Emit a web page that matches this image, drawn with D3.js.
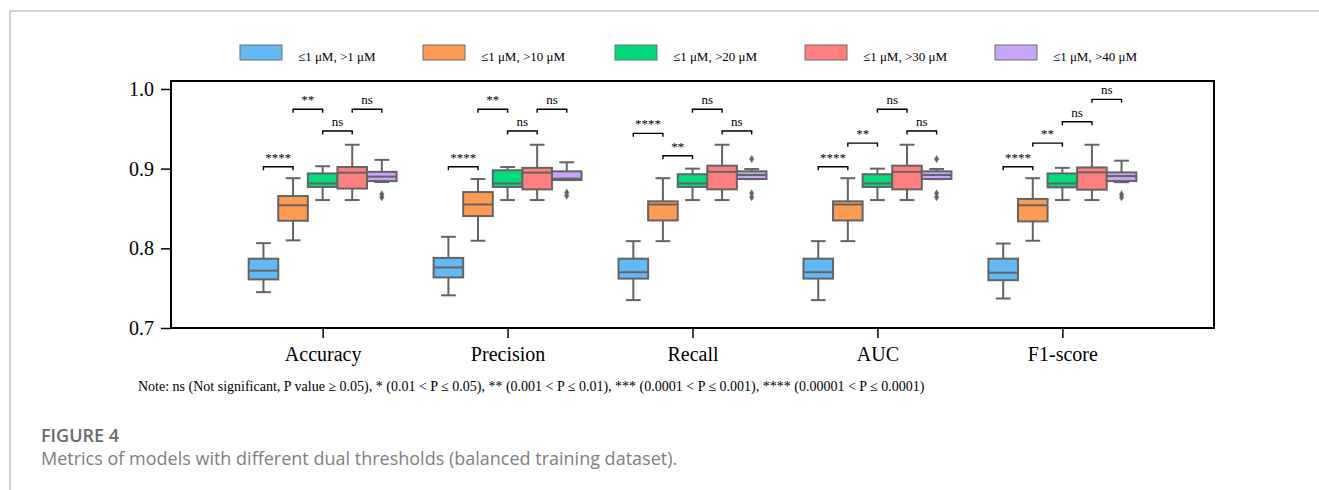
<!DOCTYPE html>
<html>
<head>
<meta charset="utf-8">
<script src="https://cdn.jsdelivr.net/npm/d3@7"></script>
<style>
  html, body { margin: 0; padding: 0; background: #fff; }
  svg { display: block; }
</style>
</head>
<body>
<svg id="chart" width="1319" height="490"></svg>
<script>
// ---------------- data ----------------
const metrics = ["Accuracy", "Precision", "Recall", "AUC", "F1-score"];
const groups = ["≤1 μM, >1 μM", "≤1 μM, >10 μM", "≤1 μM, >20 μM", "≤1 μM, >30 μM", "≤1 μM, >40 μM"];
const colors = ["#62b9f3", "#fe9b53", "#00db7c", "#fe7f7e", "#c7a6fa"];
const yTicks = [0.7, 0.8, 0.9, 1.0];

// per metric: [lower whisker, Q1, median, Q3, upper whisker]
const stats1uM = [
  [0.745, 0.761, 0.772, 0.787, 0.8065],
  [0.741, 0.7635, 0.776, 0.788, 0.8145],
  [0.735, 0.762, 0.770, 0.787, 0.809],
  [0.735, 0.762, 0.770, 0.787, 0.809],
  [0.737, 0.760, 0.7694, 0.787, 0.806]
];
const stats10uM = [
  [0.810, 0.8346, 0.854, 0.8656, 0.888],
  [0.8095, 0.8405, 0.855, 0.8706, 0.887],
  [0.809, 0.835, 0.855, 0.859, 0.888],
  [0.809, 0.835, 0.855, 0.859, 0.888],
  [0.8095, 0.8338, 0.854, 0.862, 0.888]
];
const stats20uM = [
  [0.8606, 0.877, 0.8815, 0.894, 0.903],
  [0.8606, 0.877, 0.8815, 0.898, 0.902],
  [0.8606, 0.877, 0.8815, 0.893, 0.900],
  [0.8606, 0.877, 0.8815, 0.893, 0.900],
  [0.8606, 0.8765, 0.8815, 0.894, 0.901]
];
const stats30uM = [
  [0.8606, 0.875, 0.895, 0.902, 0.930],
  [0.8606, 0.874, 0.895, 0.901, 0.930],
  [0.8606, 0.874, 0.896, 0.9037, 0.930],
  [0.8606, 0.874, 0.896, 0.9037, 0.930],
  [0.8606, 0.8736, 0.8954, 0.9015, 0.930]
];
const stats40uM = [
  [0.8832, 0.8844, 0.890, 0.896, 0.911],
  [0.8857, 0.8857, 0.8875, 0.8966, 0.908],
  [0.8868, 0.887, 0.892, 0.8966, 0.8995],
  [0.8868, 0.887, 0.892, 0.8966, 0.8995],
  [0.883, 0.8844, 0.8907, 0.8953, 0.910]
];
// outliers per metric (only the >40 μM group shows any)
const outliers40uM = [
  [0.868, 0.864],
  [0.870, 0.866],
  [0.912, 0.869, 0.864],
  [0.912, 0.869, 0.864],
  [0.868, 0.864]
];

// significance comparisons between neighbouring groups
const sigPairs = [[0, 1], [1, 2], [2, 3], [3, 4]];
const sigLabels = ["****", "**", "ns", "ns"];
// bracket heights (y value) per metric, same order as sigPairs
const sigLevels = [
  [0.9024, 0.9745, 0.9472, 0.9745],
  [0.9024, 0.9745, 0.9472, 0.9745],
  [0.9443, 0.9162, 0.9745, 0.9472],
  [0.9024, 0.932, 0.9745, 0.9472],
  [0.9024, 0.932, 0.9589, 0.987]
];

const noteText = "Note: ns (Not significant, P value ≥ 0.05), * (0.01 < P ≤ 0.05), ** (0.001 < P ≤ 0.01), *** (0.0001 < P ≤ 0.001), **** (0.00001 < P ≤ 0.0001)";
const figLabel = "FIGURE 4";
const figCaption = "Metrics of models with different dual thresholds (balanced training dataset).";

// ---------------- drawing ----------------
const allStats = [stats1uM, stats10uM, stats20uM, stats30uM, stats40uM];
const allOutliers = [[], [], [], [], outliers40uM];

const svg = d3.select("#chart");
const serif = "'Liberation Serif', 'Times New Roman', serif";
const boxStroke = "#646464";

// outer page frame
svg.append("line").attr("x1", 10).attr("x2", 1319).attr("y1", 11).attr("y2", 11)
  .attr("stroke", "#c2c2c2").attr("stroke-width", 1.5);
svg.append("line").attr("x1", 10).attr("x2", 10).attr("y1", 11).attr("y2", 490)
  .attr("stroke", "#c2c2c2").attr("stroke-width", 1.5);

const plot = { left: 171, right: 1214, top: 81, bottom: 328 };
const x = d3.scaleLinear().domain([-0.82, metrics.length - 1 + 0.82]).range([plot.left, plot.right]);
const y = d3.scaleLinear().domain([0.7, 1.01]).range([plot.bottom, plot.top]);

const hueWidth = 0.8 / groups.length;
const hueOffset = h => (h - (groups.length - 1) / 2) * hueWidth;

// axes
const yAxis = d3.axisLeft(y).tickValues(yTicks).tickFormat(d3.format(".1f")).tickSize(10).tickPadding(7);
const gy = svg.append("g").attr("transform", `translate(${plot.left},0)`).call(yAxis);
gy.select(".domain").remove();
gy.selectAll(".tick line").attr("stroke", "#000").attr("stroke-width", 1.5);
gy.selectAll(".tick text").attr("font-family", serif).attr("font-size", 20).attr("fill", "#000");

const xAxis = d3.axisBottom(x).tickValues(d3.range(metrics.length)).tickFormat(i => metrics[i]).tickSize(10).tickPadding(9);
const gx = svg.append("g").attr("transform", `translate(0,${plot.bottom})`).call(xAxis);
gx.select(".domain").remove();
gx.selectAll(".tick line").attr("stroke", "#000").attr("stroke-width", 1.5);
gx.selectAll(".tick text").attr("font-family", serif).attr("font-size", 20).attr("fill", "#000");

// boxes
const boxW = x(hueWidth) - x(0);
metrics.forEach((m, mi) => {
  groups.forEach((g, gi) => {
    const [lo, q1, med, q3, hi] = allStats[gi][mi];
    const cx = x(mi + hueOffset(gi));
    const grp = svg.append("g");
    const capW = boxW * 0.5;
    // whiskers
    grp.append("line").attr("x1", cx).attr("x2", cx).attr("y1", y(q3)).attr("y2", y(hi))
      .attr("stroke", boxStroke).attr("stroke-width", 2);
    grp.append("line").attr("x1", cx).attr("x2", cx).attr("y1", y(q1)).attr("y2", y(lo))
      .attr("stroke", boxStroke).attr("stroke-width", 2);
    grp.append("line").attr("x1", cx - capW / 2).attr("x2", cx + capW / 2).attr("y1", y(hi)).attr("y2", y(hi))
      .attr("stroke", boxStroke).attr("stroke-width", 2);
    grp.append("line").attr("x1", cx - capW / 2).attr("x2", cx + capW / 2).attr("y1", y(lo)).attr("y2", y(lo))
      .attr("stroke", boxStroke).attr("stroke-width", 2);
    // box
    grp.append("rect").attr("x", cx - boxW / 2).attr("width", boxW)
      .attr("y", y(q3)).attr("height", Math.max(1, y(q1) - y(q3)))
      .attr("fill", colors[gi]).attr("stroke", boxStroke).attr("stroke-width", 2);
    // median
    grp.append("line").attr("x1", cx - boxW / 2).attr("x2", cx + boxW / 2).attr("y1", y(med)).attr("y2", y(med))
      .attr("stroke", boxStroke).attr("stroke-width", 2);
    // outliers (diamonds)
    (allOutliers[gi][mi] || []).forEach(v => {
      const py = y(v);
      grp.append("path")
        .attr("d", `M${cx},${py - 3.5} L${cx + 2.2},${py} L${cx},${py + 3.5} L${cx - 2.2},${py} Z`)
        .attr("fill", boxStroke).attr("stroke", boxStroke).attr("stroke-width", 0.5);
    });
  });

  // significance brackets
  sigPairs.forEach(([a, b], si) => {
    const lvl = y(sigLevels[mi][si]);
    const xa = x(mi + hueOffset(a)), xb = x(mi + hueOffset(b));
    svg.append("path")
      .attr("d", `M${xa},${lvl + 3.5} L${xa},${lvl} L${xb},${lvl} L${xb},${lvl + 3.5}`)
      .attr("fill", "none").attr("stroke", "#000").attr("stroke-width", 1.4);
    svg.append("text").attr("x", (xa + xb) / 2).attr("y", lvl - 5)
      .attr("text-anchor", "middle").attr("font-family", serif).attr("font-size", 13)
      .attr("fill", "#000").text(sigLabels[si]);
  });
});

// plot frame
svg.append("rect").attr("x", plot.left).attr("y", plot.top)
  .attr("width", plot.right - plot.left).attr("height", plot.bottom - plot.top)
  .attr("fill", "none").attr("stroke", "#000").attr("stroke-width", 2);

// legend
const legendX = [240, 423, 615, 805, 995];
groups.forEach((g, gi) => {
  svg.append("rect").attr("x", legendX[gi]).attr("y", 45).attr("width", 42).attr("height", 15)
    .attr("fill", colors[gi]).attr("stroke", "#6e6e6e").attr("stroke-width", 1);
  svg.append("text").attr("x", legendX[gi] + 58).attr("y", 61)
    .attr("font-family", serif).attr("font-size", 13).attr("fill", "#000").text(g);
});

// note
svg.append("text").attr("x", 138).attr("y", 391)
  .attr("font-family", serif).attr("font-size", 14).attr("fill", "#000").text(noteText);

// caption
svg.append("text").attr("x", 41).attr("y", 442)
  .attr("font-family", "'Open Sans', sans-serif").attr("font-weight", 600).attr("font-size", 18)
  .attr("fill", "#6a6a6a").text(figLabel);
svg.append("text").attr("x", 41).attr("y", 465)
  .attr("font-family", "'Open Sans', sans-serif").attr("font-size", 18)
  .attr("fill", "#808080").text(figCaption);
</script>
</body>
</html>
